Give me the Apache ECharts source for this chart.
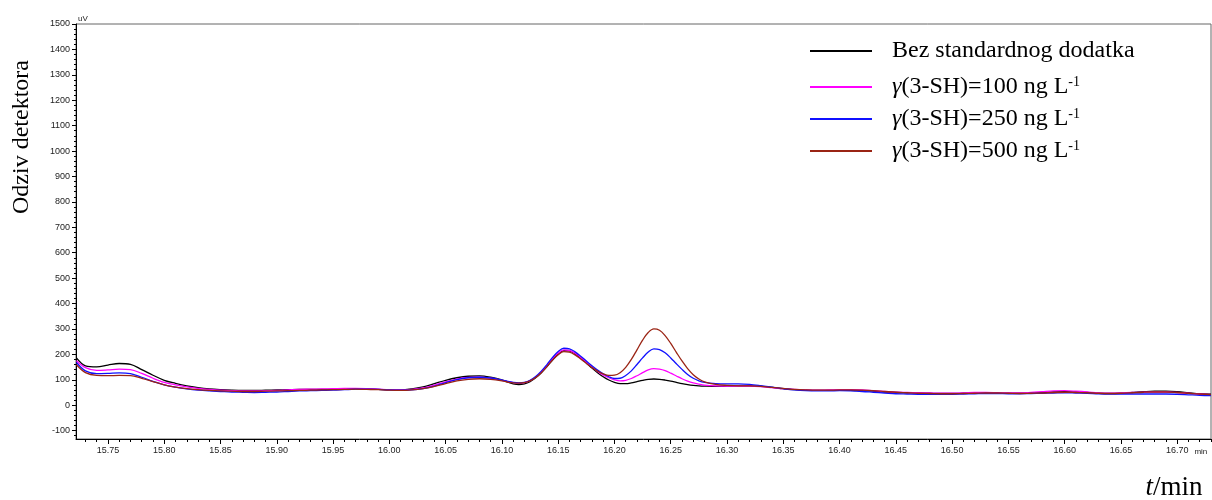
<!DOCTYPE html>
<html>
<head>
<meta charset="utf-8">
<script src="https://cdn.jsdelivr.net/npm/echarts@6/dist/echarts.min.js"></script>
<style>
html,body{margin:0;padding:0;background:#fff;}
#chart{width:1212px;height:500px;}
</style>
</head>
<body>
<div id="chart"></div>
<script>
// retention time (min)
const times = [15.722,
15.73,15.74,15.75,15.76,15.77,15.78,15.79,15.80,15.81,15.82,15.83,15.84,15.85,15.86,15.87,15.88,15.89,15.90,15.91,15.92,15.93,15.94,15.95,15.96,15.97,15.98,15.99,16.00,16.01,16.02,16.03,16.04,16.05,16.06,16.07,16.08,16.09,
16.100,16.105,16.110,16.115,16.120,16.125,16.130,16.135,16.140,16.145,16.150,16.155,16.160,16.165,16.170,16.175,16.180,16.185,16.190,16.195,16.200,16.205,16.210,16.215,16.220,16.225,16.230,16.235,16.240,16.245,16.250,16.255,16.260,16.265,16.270,16.275,16.280,
16.29,16.30,16.31,16.32,16.33,16.34,16.35,16.36,16.37,16.38,16.39,16.40,16.41,16.42,16.43,16.44,16.45,16.46,16.47,16.48,16.49,16.50,16.51,16.52,16.53,16.54,16.55,16.56,16.57,16.58,16.59,16.60,16.61,16.62,16.63,16.64,16.65,16.66,16.67,16.68,16.69,16.70,16.71,16.72,16.73];

const sBez = [186,
155,151,158,164,161,140,118,98,86,76,69,64,61,59,58,58,59,60,61,62,62,62,63,64,65,64,62,60,60,64,72,85,98,108,114,115,110,
100,91,84,81,84,93,108,128,152,178,200,215,214,203,186,166,146,128,112,99,90,85,85,88,93,98,102,103,102,99,95,90,85,81,78,76,75,
74,75,76,76,74,70,65,61,59,58,58,59,58,57,55,52,50,49,48,47,46,46,47,48,49,48,47,47,48,50,52,53,52,50,47,46,47,50,53,55,55,53,49,45,43];

const s100 = [175,
148,137,139,142,140,125,106,90,80,72,66,62,59,57,56,56,57,58,60,62,63,64,65,66,66,65,63,61,60,62,68,79,92,103,109,110,106,
98,93,89,87,89,97,111,131,156,183,205,218,216,205,188,169,150,133,119,108,100,96,98,105,116,128,139,144,142,136,126,115,104,95,88,83,79,
76,75,75,75,73,69,65,62,60,59,60,61,61,60,57,54,51,50,49,48,47,47,48,50,50,49,48,48,50,53,56,57,55,52,48,47,48,50,51,52,52,50,47,44,42];

const s250 = [168,
135,124,125,127,124,110,94,80,71,64,59,56,54,52,51,50,51,52,54,56,57,58,59,61,63,63,62,60,59,60,65,75,89,101,108,110,107,
99,94,90,88,90,98,113,134,160,188,211,224,222,210,193,174,155,138,124,112,105,106,117,135,160,186,209,222,219,206,186,163,141,121,106,96,90,
85,84,84,82,77,71,65,60,57,56,56,57,56,54,51,48,45,44,43,43,43,43,44,45,46,46,45,45,46,47,48,49,48,47,45,44,44,44,44,44,44,43,41,39,38];

const s500 = [159,
128,117,116,117,116,106,93,80,71,65,61,58,56,55,54,54,55,56,57,58,59,60,61,62,63,62,61,59,58,60,65,74,85,96,102,104,102,
96,91,88,87,89,96,109,128,152,178,199,211,209,198,182,165,148,134,123,117,118,128,149,180,218,256,286,300,295,274,243,208,174,144,120,103,92,
82,78,76,76,74,70,66,62,60,59,59,60,60,59,57,54,51,49,47,46,45,45,46,47,48,48,47,46,47,48,50,51,50,49,47,46,47,49,51,52,52,50,47,44,42];

const seriesNames = ['Bez standardnog dodatka','γ(3-SH)=100 ng L-1','γ(3-SH)=250 ng L-1','γ(3-SH)=500 ng L-1'];
const seriesColors = ['#000000','#ff00ff','#1010ff','#9a2414'];

const xTickLabels = [15.75,15.80,15.85,15.90,15.95,16.00,16.05,16.10,16.15,16.20,16.25,16.30,16.35,16.40,16.45,16.50,16.55,16.60,16.65,16.70];
const yTickLabels = [-100,0,100,200,300,400,500,600,700,800,900,1000,1100,1200,1300,1400,1500];

const X_MIN = 15.7216, X_MAX = 16.73, Y_MIN = -133, Y_MAX = 1500;

const xMinor = [];
for (let i = 1573; i <= 1673; i++) xMinor.push(i / 100);
const yMinor = [];
for (let v = -120; v <= 1500; v += 20) yMinor.push(v);

const chart = echarts.init(document.getElementById('chart'));
const dataSets = [sBez, s100, s250, s500];

function legendFmt(name){
  if (name.indexOf('γ') === 0) {
    return '{g|γ}{b|' + name.slice(1, name.length - 2) + '}{s|-1}';
  }
  return '{b|' + name + '}';
}
const richLegend = {
  g:{fontFamily:'Liberation Serif', fontSize:24, fontStyle:'italic', color:'#000'},
  b:{fontFamily:'Liberation Serif', fontSize:24, color:'#000'},
  s:{fontFamily:'Liberation Serif', fontSize:14, color:'#000', verticalAlign:'top', lineHeight:14}
};
const legendTops = [39, 75, 107, 139];

const option = {
  animation:false,
  backgroundColor:'#fff',
  grid:{left:76, right:1, top:24, bottom:61, show:true, borderColor:'#666', borderWidth:1},
  xAxis:[
    {type:'value', min:X_MIN, max:X_MAX, position:'bottom',
     axisLine:{show:true, onZero:false, lineStyle:{color:'#000', width:1}},
     axisTick:{show:true, customValues:xTickLabels, length:5, lineStyle:{color:'#000'}},
     axisLabel:{show:true, customValues:xTickLabels, formatter:v=>v.toFixed(2), fontSize:9, fontFamily:'Liberation Sans', color:'#222', margin:7},
     splitLine:{show:false},
     name:'min', nameLocation:'end', nameGap:-4,
     nameTextStyle:{fontSize:8, fontFamily:'Liberation Sans', color:'#222', align:'right', verticalAlign:'top', padding:[9,0,0,0]}
    },
    {type:'value', min:X_MIN, max:X_MAX, position:'bottom', offset:0,
     axisLine:{show:false, onZero:false},
     axisTick:{show:true, customValues:xMinor, length:3, lineStyle:{color:'#000'}},
     axisLabel:{show:false}, splitLine:{show:false}}
  ],
  yAxis:[
    {type:'value', min:Y_MIN, max:Y_MAX, position:'left',
     axisLine:{show:true, onZero:false, lineStyle:{color:'#000', width:1}},
     axisTick:{show:true, customValues:yTickLabels, length:4, lineStyle:{color:'#000'}},
     axisLabel:{show:true, customValues:yTickLabels, formatter:v=>String(v), fontSize:9, fontFamily:'Liberation Sans', color:'#222', margin:6},
     splitLine:{show:false},
     name:'uV', nameLocation:'end', nameGap:1,
     nameTextStyle:{fontSize:8, fontFamily:'Liberation Sans', color:'#222', align:'left', verticalAlign:'bottom', padding:[0,0,0,2]}
    },
    {type:'value', min:Y_MIN, max:Y_MAX, position:'left', offset:0,
     axisLine:{show:false, onZero:false},
     axisTick:{show:true, customValues:yMinor, length:2, lineStyle:{color:'#000'}},
     axisLabel:{show:false}, splitLine:{show:false}}
  ],
  legend: seriesNames.map((n,i)=>({
    data:[n], left:810, top:legendTops[i], orient:'vertical', padding:0,
    icon:'rect', itemWidth:62, itemHeight:2, selectedMode:false,
    formatter:legendFmt,
    textStyle:{fontFamily:'Liberation Serif', fontSize:24, color:'#000', padding:[0,0,0,15], rich:richLegend}
  })),
  graphic:[
    {type:'text', x:22, y:137, rotation:Math.PI/2,
     style:{text:'Odziv detektora', fontFamily:'Liberation Serif', fontSize:24, fill:'#000', align:'center', verticalAlign:'middle'}},
    {type:'text', x:1174, y:488,
     style:{text:'{i|t}{n|/min}', align:'center', verticalAlign:'middle',
       rich:{i:{fontFamily:'Liberation Serif', fontSize:27, fontStyle:'italic', fill:'#000'},
             n:{fontFamily:'Liberation Serif', fontSize:27, fill:'#000'}}}}
  ],
  series: seriesNames.map((n,i)=>({
    name:n, type:'line', xAxisIndex:0, yAxisIndex:0,
    data: times.map((t,k)=>[t, dataSets[i][k]]),
    showSymbol:false, smooth:0.35, clip:true,
    lineStyle:{color:seriesColors[i], width:1.3},
    itemStyle:{color:seriesColors[i]}
  }))
};
chart.setOption(option);
</script>
</body>
</html>
